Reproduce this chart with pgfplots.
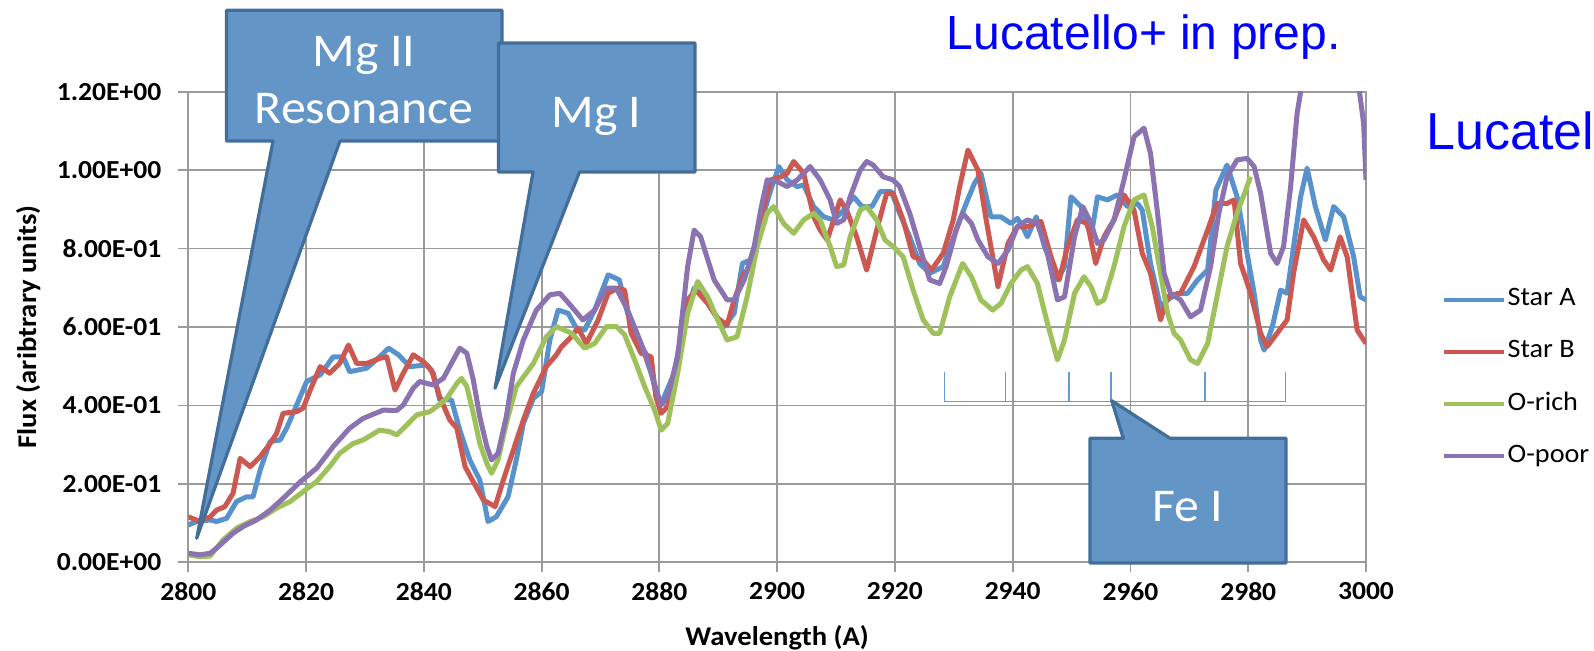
\documentclass[border=0pt]{standalone}
\usepackage{fontspec}
\usepackage{pgfplots}
\usepackage{pgfplotstable}
\pgfplotsset{compat=1.18}
\setmainfont{Carlito}[FakeStretch=1.06]
\newfontfamily\titlefont{Liberation Sans}

\definecolor{starA}{RGB}{88,146,204}
\definecolor{starB}{RGB}{204,88,82}
\definecolor{orich}{RGB}{158,193,92}
\definecolor{opoor}{RGB}{139,114,176}
\definecolor{gridgray}{RGB}{155,155,155}
\definecolor{callfill}{RGB}{99,149,199}
\definecolor{calldraw}{RGB}{66,110,153}
\definecolor{fecol}{RGB}{100,155,210}

% wavelength (A)  flux
\pgfplotstableread{
x y
2800 0.095
2801.4 0.104
2803.7 0.108
2804.8 0.104
2806.5 0.112
2808.2 0.155
2809.9 0.167
2811.0 0.167
2812.2 0.235
2813.9 0.308
2815.6 0.312
2816.7 0.342
2818.4 0.401
2820.1 0.461
2822.4 0.478
2824.6 0.524
2826.3 0.524
2827.4 0.486
2830.3 0.495
2832.5 0.524
2834.0 0.546
2835.7 0.529
2837.6 0.499
2840.5 0.503
2841.6 0.482
2842.7 0.414
2844.7 0.414
2846.1 0.337
2847.8 0.261
2849.5 0.210
2850.9 0.104
2852.3 0.116
2854.3 0.167
2855.7 0.261
2856.9 0.354
2858.6 0.418
2860.0 0.435
2861.4 0.567
2862.8 0.643
2864.5 0.635
2865.9 0.597
2867.3 0.592
2869.0 0.643
2871.3 0.733
2873.2 0.720
2874.6 0.635
2876.3 0.571
2878.0 0.524
2879.7 0.414
2880.6 0.414
2882.5 0.482
2884.2 0.618
2885.9 0.699
2887.6 0.677
2889.3 0.635
2891.0 0.601
2892.7 0.635
2894.1 0.762
2895.5 0.771
2897.2 0.864
2898.9 0.949
2900.3 1.009
2901.7 0.975
2903.4 0.958
2904.5 0.962
2906.2 0.907
2907.9 0.881
2909.6 0.873
2911.3 0.898
2913.0 0.932
2914.4 0.907
2916.1 0.907
2917.5 0.945
2919.4 0.945
2920.8 0.890
2922.5 0.830
2924.2 0.762
2925.9 0.737
2928.2 0.754
2931.0 0.873
2932.5 0.930
2933.5 0.966
2934.6 0.992
2935.5 0.932
2936.3 0.881
2938.0 0.881
2939.7 0.864
2940.8 0.877
2941.7 0.856
2942.5 0.830
2944.0 0.881
2945.4 0.805
2947.6 0.720
2948.8 0.754
2949.9 0.932
2951.6 0.907
2953.3 0.830
2954.4 0.932
2956.1 0.924
2957.8 0.937
2959.5 0.907
2961.2 0.915
2962.0 0.898
2963.4 0.762
2965.1 0.652
2966.3 0.669
2968.0 0.686
2969.7 0.686
2971.4 0.720
2973.1 0.745
2974.5 0.949
2976.4 1.013
2978.1 0.932
2979.8 0.788
2981.0 0.686
2982.1 0.567
2982.7 0.541
2984.1 0.601
2985.5 0.694
2986.6 0.686
2987.7 0.805
2988.9 0.932
2990.0 1.005
2991.4 0.907
2993.1 0.822
2994.5 0.907
2996.2 0.881
2997.9 0.779
2999.0 0.677
3000.0 0.669
}\starAtable

\pgfplotstableread{
x y
2800 0.116
2802.0 0.104
2803.7 0.116
2804.8 0.133
2806.2 0.142
2807.6 0.176
2808.8 0.265
2810.5 0.244
2812.2 0.269
2813.9 0.303
2815.0 0.329
2816.1 0.380
2818.4 0.384
2819.5 0.393
2820.7 0.439
2822.4 0.499
2824.0 0.482
2825.7 0.507
2827.2 0.554
2828.6 0.507
2830.3 0.507
2832.5 0.520
2833.7 0.524
2835.1 0.439
2836.5 0.482
2838.2 0.529
2839.9 0.512
2841.3 0.490
2842.7 0.422
2844.4 0.363
2845.6 0.342
2847.0 0.244
2848.7 0.197
2850.1 0.159
2852.1 0.142
2853.5 0.210
2855.2 0.286
2856.9 0.363
2858.6 0.431
2860.8 0.499
2862.5 0.529
2863.4 0.550
2864.8 0.571
2866.2 0.597
2867.6 0.558
2869.6 0.618
2871.3 0.686
2873.0 0.699
2874.1 0.694
2875.2 0.584
2876.9 0.533
2878.6 0.524
2879.4 0.422
2880.3 0.380
2881.4 0.397
2883.1 0.516
2884.8 0.669
2886.2 0.694
2888.2 0.660
2889.9 0.622
2891.5 0.605
2892.7 0.669
2894.4 0.737
2895.5 0.754
2897.2 0.873
2898.9 0.975
2900.6 0.983
2901.7 0.992
2902.8 1.022
2904.5 0.992
2906.2 0.881
2907.3 0.847
2908.5 0.822
2909.6 0.873
2910.7 0.924
2911.8 0.898
2913.5 0.830
2915.2 0.745
2916.9 0.847
2918.6 0.941
2919.7 0.941
2921.4 0.873
2923.1 0.779
2924.8 0.771
2926.2 0.745
2928.2 0.788
2929.9 0.873
2931.0 0.958
2932.4 1.051
2934.1 1.000
2935.5 0.873
2937.5 0.703
2939.2 0.813
2940.8 0.856
2942.5 0.856
2944.8 0.869
2946.5 0.779
2947.9 0.720
2949.3 0.805
2951.0 0.873
2952.7 0.864
2954.1 0.762
2955.5 0.830
2957.2 0.873
2958.9 0.937
2960.6 0.898
2962.0 0.788
2963.4 0.737
2965.1 0.618
2966.3 0.677
2968.5 0.686
2970.8 0.754
2973.1 0.847
2974.7 0.915
2976.4 0.915
2977.6 0.924
2978.7 0.762
2980.4 0.686
2982.1 0.584
2983.2 0.550
2984.9 0.584
2986.6 0.618
2987.7 0.737
2989.4 0.873
2991.1 0.830
2992.8 0.771
2994.0 0.745
2995.6 0.830
2996.8 0.779
2998.5 0.592
3000.0 0.558
}\starBtable

\pgfplotstableread{
x y
2800 0.019
2802.0 0.014
2803.7 0.016
2805.9 0.057
2808.2 0.087
2810.5 0.104
2812.7 0.116
2815.0 0.138
2817.3 0.155
2819.5 0.180
2821.8 0.206
2824.0 0.244
2825.7 0.278
2828.0 0.303
2829.7 0.312
2832.5 0.337
2834.2 0.333
2835.4 0.325
2837.1 0.350
2838.8 0.376
2841.0 0.384
2842.2 0.397
2843.9 0.418
2845.6 0.456
2846.4 0.469
2847.3 0.448
2848.4 0.380
2849.5 0.303
2850.7 0.252
2851.5 0.227
2852.6 0.261
2854.0 0.354
2855.7 0.448
2858.6 0.507
2860.8 0.575
2862.5 0.601
2865.1 0.584
2867.3 0.546
2869.0 0.558
2871.0 0.601
2872.7 0.601
2874.1 0.580
2875.8 0.516
2877.5 0.448
2879.2 0.388
2880.3 0.337
2881.4 0.354
2883.1 0.482
2884.8 0.635
2886.5 0.716
2888.2 0.677
2889.9 0.618
2891.5 0.567
2893.2 0.575
2894.9 0.677
2896.6 0.805
2898.3 0.890
2899.4 0.907
2901.1 0.864
2902.8 0.839
2904.5 0.873
2906.2 0.890
2907.3 0.873
2909.0 0.805
2910.1 0.754
2911.3 0.758
2912.4 0.830
2914.1 0.898
2915.2 0.907
2916.9 0.873
2918.3 0.822
2919.7 0.805
2921.4 0.779
2923.1 0.694
2924.8 0.618
2926.5 0.584
2927.6 0.584
2929.3 0.677
2931.5 0.762
2933.0 0.728
2934.6 0.669
2936.6 0.643
2938.0 0.660
2939.7 0.711
2941.4 0.745
2942.5 0.754
2944.2 0.711
2945.9 0.609
2947.6 0.516
2948.8 0.567
2950.5 0.686
2952.1 0.728
2953.3 0.703
2954.4 0.660
2955.5 0.669
2957.2 0.754
2958.9 0.856
2960.6 0.924
2962.3 0.937
2963.7 0.856
2965.1 0.737
2966.3 0.635
2967.4 0.584
2968.5 0.567
2970.2 0.516
2971.4 0.507
2973.1 0.558
2974.7 0.677
2976.4 0.805
2978.1 0.890
2980.4 0.983
}\orichtable

\pgfplotstableread{
x y
2800 0.023
2802.0 0.019
2803.7 0.023
2804.8 0.036
2807.6 0.074
2809.3 0.091
2811.6 0.108
2813.9 0.133
2816.1 0.163
2819.0 0.205
2821.8 0.240
2824.6 0.295
2827.4 0.342
2829.7 0.367
2833.1 0.388
2835.4 0.387
2836.5 0.401
2838.2 0.444
2839.3 0.461
2841.6 0.452
2843.3 0.469
2845.0 0.516
2846.1 0.546
2847.3 0.533
2848.4 0.465
2849.5 0.371
2850.7 0.295
2851.5 0.261
2852.6 0.278
2854.0 0.371
2855.2 0.482
2856.9 0.567
2859.1 0.643
2861.4 0.682
2863.1 0.686
2865.1 0.652
2867.0 0.618
2869.0 0.643
2871.0 0.699
2872.7 0.699
2874.6 0.643
2876.9 0.558
2878.6 0.482
2880.3 0.401
2881.4 0.422
2883.1 0.524
2884.8 0.754
2885.9 0.847
2887.0 0.830
2889.3 0.720
2891.5 0.669
2892.7 0.669
2894.4 0.720
2896.1 0.805
2897.2 0.898
2898.3 0.975
2900.0 0.971
2901.7 0.958
2903.4 0.975
2905.6 1.009
2907.3 0.975
2909.0 0.924
2910.1 0.864
2911.3 0.873
2912.4 0.932
2914.1 1.000
2915.2 1.022
2916.3 1.013
2918.0 0.983
2919.7 0.975
2920.8 0.958
2922.5 0.890
2924.2 0.805
2925.9 0.720
2927.6 0.711
2928.7 0.754
2930.4 0.847
2931.5 0.890
2933.0 0.864
2934.1 0.822
2935.8 0.779
2937.5 0.762
2939.2 0.796
2940.8 0.856
2942.5 0.873
2944.2 0.864
2945.9 0.788
2947.6 0.669
2948.8 0.677
2950.5 0.830
2951.9 0.907
2953.3 0.864
2954.4 0.813
2955.5 0.822
2957.2 0.873
2958.9 0.975
2960.6 1.085
2962.3 1.107
2963.4 1.043
2964.6 0.890
2965.7 0.737
2966.8 0.686
2968.5 0.669
2970.2 0.626
2971.9 0.643
2973.6 0.754
2975.0 0.890
2976.4 0.983
2978.1 1.026
2979.8 1.030
2981.0 1.009
2982.1 0.941
2983.8 0.788
2984.9 0.762
2986.0 0.805
2987.2 0.958
2988.3 1.145
2990.0 1.300
2994.0 1.500
2998.0 1.300
2999.6 1.119
3000.0 0.975
}\opoortable

\begin{document}
\begin{tikzpicture}
\useasboundingbox (0,0) rectangle (797pt,325.5pt);
\clip (0,0) rectangle (797pt,325.5pt);

\begin{axis}[
  at={(94.15pt,44.35pt)}, anchor=south west,
  scale only axis, width=588.85pt, height=235.3pt,
  xmin=2800, xmax=3000, ymin=0, ymax=1.2,
  xtick={2800,2820,2840,2860,2880,2900,2920,2940,2960,2980,3000},
  xticklabels={2800,2820,2840,2860,2880,2900,2920,2940,2960,2980,3000},
  ytick={0,0.2,0.4,0.6,0.8,1.0,1.2},
  yticklabels={0.00E+00,2.00E-01,4.00E-01,6.00E-01,8.00E-01,1.00E+00,1.20E+00},
  grid=major,
  major grid style={gridgray, line width=0.9pt},
  axis line style={gridgray, line width=0.9pt},
  tick style={gridgray, line width=0.9pt},
  tick align=outside, major tick length=5pt,
  tick pos=left,
  ticklabel style={font=\fontsize{13}{15}\selectfont\bfseries, text=black},
  yticklabel style={xshift=-5pt},
  xticklabel style={yshift=-1.5pt},
  xlabel={Wavelength (A)},
  ylabel={Flux (aribtrary units)},
  label style={font=\fontsize{13.5}{16}\selectfont\bfseries},
  xlabel style={at={(axis description cs:0.5,-0.161)}, anchor=center},
  ylabel style={at={(axis description cs:-0.136,0.5)}, anchor=center},
  clip mode=individual,
  legend cell align=left,
  legend image code/.code={\draw[#1, line width=2pt] (0pt,0pt) -- (30pt,0pt);},
  legend style={draw=none, fill=none,
    at={(axis description cs:1.0639,0.3915)}, anchor=west,
    inner sep=0pt, row sep=10.1pt,
    font=\fontsize{13.3}{16}\selectfont,
    nodes={inner xsep=1pt, inner ysep=2pt, text height=9pt, text depth=3pt}},
]
% Fe I line positions
\addplot[fecol, line width=0.8pt, forget plot, unbounded coords=jump] coordinates {
  (2928.4,0.486) (2928.4,0.4095) (2986.3,0.4095) (2986.3,0.486) (2986.3,nan)
  (2938.8,0.4095) (2938.8,0.486) (2938.8,nan)
  (2949.6,0.4095) (2949.6,0.486) (2949.6,nan)
  (2956.7,0.4095) (2956.7,0.486) (2956.7,nan)
  (2972.7,0.4095) (2972.7,0.486)
};
\addplot[starA, line width=2.5pt, line join=round] table[x=x, y=y] {\starAtable};
\addlegendentry{Star A}
\addplot[starB, line width=2.5pt, line join=round] table[x=x, y=y] {\starBtable};
\addlegendentry{Star B}
\addplot[orich, line width=2.5pt, line join=round] table[x=x, y=y] {\orichtable};
\addlegendentry{O-rich}
\addplot[opoor, line width=2.5pt, line join=round] table[x=x, y=y] {\opoortable};
\addlegendentry{O-poor}
\end{axis}

% callouts, in pixel units measured from the top left corner
\begin{scope}[x=0.5pt, y=-0.5pt, shift={(0pt,325.5pt)}]
  \filldraw[fill=callfill, draw=calldraw, line width=1.6pt, line join=round]
    (226.5,10.3) -- (502,10.3) -- (502,141) -- (340,141) -- (196.7,538.3)
    -- (273,141) -- (226.5,141) -- cycle;
  \node[anchor=base, inner sep=0pt, text=white, font=\fontsize{23.5}{28}\selectfont] at (364.2,67) {Mg II};
  \node[anchor=base, inner sep=0pt, text=white, font=\fontsize{23.5}{28}\selectfont] at (364.2,123.3) {Resonance};

  \filldraw[fill=callfill, draw=calldraw, line width=1.6pt, line join=round]
    (498.5,43) -- (695,43) -- (695,172) -- (579.5,172) -- (495,388.3)
    -- (533,172) -- (498.5,172) -- cycle;
  \node[anchor=base, inner sep=0pt, text=white, font=\fontsize{23.5}{28}\selectfont] at (596.5,127.4) {Mg I};

  \filldraw[fill=callfill, draw=calldraw, line width=1.6pt, line join=round]
    (1090,438.3) -- (1123.3,438.3) -- (1111.7,400.7) -- (1170,438.3)
    -- (1286,438.3) -- (1286,563) -- (1090,563) -- cycle;
  \node[anchor=base, inner sep=0pt, text=white, font=\fontsize{23.5}{28}\selectfont] at (1187.5,521.7) {Fe I};

  \node[anchor=base west, inner sep=0pt, text=blue, font=\titlefont\fontsize{24}{28}\selectfont] at (946.5,50) {Lucatello+ in prep.};
  \node[anchor=base west, inner sep=0pt, text=blue, font=\titlefont\fontsize{26}{30}\selectfont] at (1426,150) {Lucatello+ in prep.};
\end{scope}
\end{tikzpicture}
\end{document}
